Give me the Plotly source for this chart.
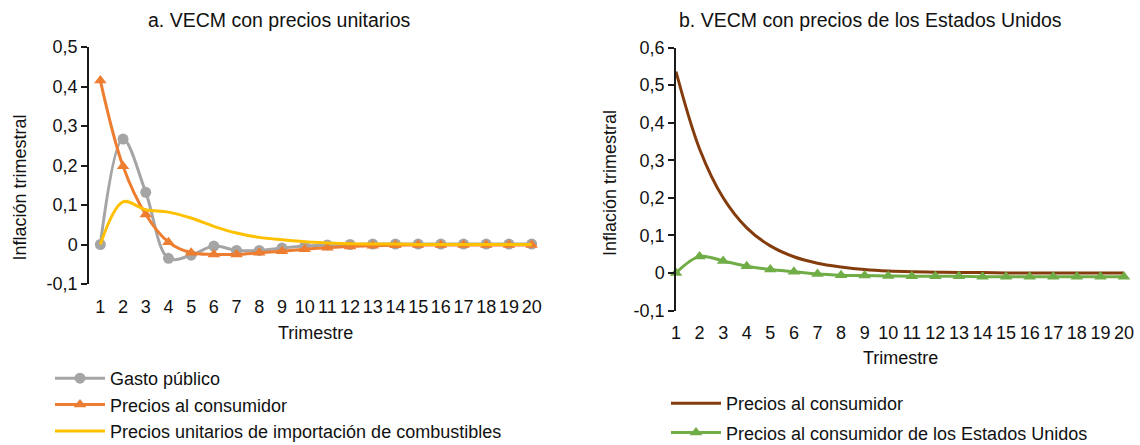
import plotly.graph_objects as go

# ---------------- data ----------------
trimestres = list(range(1, 21))

# Panel a: VECM con precios unitarios
gasto_publico = [0.0, 0.267, 0.132, -0.035, -0.027, -0.004, -0.015, -0.015, -0.009, -0.004,
                 -0.001, 0.0, 0.001, 0.001, 0.001, 0.001, 0.001, 0.001, 0.001, 0.001]
precios_consumidor_a = [0.415, 0.198, 0.076, 0.006, -0.021, -0.025, -0.025, -0.021, -0.017, -0.012,
                        -0.008, -0.005, -0.003, -0.002, -0.001, -0.001, -0.001, -0.001, -0.001, -0.001]
precios_combustibles = [0.0, 0.108, 0.088, 0.082, 0.067, 0.046, 0.029, 0.018, 0.012, 0.007,
                        0.004, 0.002, 0.001, 0.001, 0.0, 0.0, 0.0, 0.0, 0.0, 0.0]

# Panel b: VECM con precios de los Estados Unidos
precios_consumidor_b = [0.536, 0.33, 0.2, 0.12, 0.072, 0.043, 0.026, 0.016, 0.009, 0.005,
                        0.003, 0.002, 0.001, 0.001, 0.0, 0.0, 0.0, 0.0, 0.0, 0.0]
precios_eeuu = [0.0, 0.044, 0.032, 0.018, 0.009, 0.003, -0.003, -0.006, -0.007, -0.008,
                -0.009, -0.009, -0.009, -0.01, -0.01, -0.01, -0.01, -0.01, -0.01, -0.01]

y_ticks_a = [-0.1, 0, 0.1, 0.2, 0.3, 0.4, 0.5]
y_labels_a = ["-0,1", "0", "0,1", "0,2", "0,3", "0,4", "0,5"]
y_ticks_b = [-0.1, 0, 0.1, 0.2, 0.3, 0.4, 0.5, 0.6]
y_labels_b = ["-0,1", "0", "0,1", "0,2", "0,3", "0,4", "0,5", "0,6"]

title_a = "a. VECM con precios unitarios"
title_b = "b. VECM con precios de los Estados Unidos"
y_title = "Inflación trimestral"
x_title = "Trimestre"

# ---------------- style ----------------
W, H = 1140, 445
FONT = "Liberation Sans, Arial, sans-serif"
TXT = "#111111"
AX = "#1a1a1a"
FS = 18

GRAY = "#A5A5A5"
ORANGE = "#ED7D31"
YELLOW = "#FFC000"
BROWN = "#843C0C"
GREEN = "#70AD47"

xa_dom = [89 / W, 543 / W]
ya_dom = [1 - 284 / H, 1 - 47 / H]
xa_rng = [0.5, 20.5]
ya_rng = [-0.1, 0.5]

xb_dom = [676 / W, 1124 / W]
yb_dom = [1 - 310.5 / H, 1 - 47.5 / H]
xb_rng = [1, 20]
yb_rng = [-0.1, 0.6]


def zero_pos(dom, rng):
    return dom[0] + (0 - rng[0]) / (rng[1] - rng[0]) * (dom[1] - dom[0])


fig = go.Figure()

fig.add_trace(go.Scatter(
    x=trimestres, y=gasto_publico, name="Gasto público", mode="lines+markers",
    line=dict(color=GRAY, width=3, shape="spline"),
    marker=dict(symbol="circle", size=11, color=GRAY),
    xaxis="x", yaxis="y", legend="legend", legendgroup="g1", cliponaxis=False))
fig.add_trace(go.Scatter(
    x=trimestres, y=precios_consumidor_a, name="Precios al consumidor", mode="lines+markers",
    line=dict(color=ORANGE, width=3, shape="spline"),
    marker=dict(symbol="triangle-up", size=11, color=ORANGE),
    xaxis="x", yaxis="y", legend="legend", legendgroup="g2", cliponaxis=False))
fig.add_trace(go.Scatter(
    x=trimestres, y=precios_combustibles, name="Precios unitarios de importación de combustibles",
    mode="lines", line=dict(color=YELLOW, width=3, shape="spline"),
    xaxis="x", yaxis="y", legend="legend", legendgroup="g3", cliponaxis=False))

fig.add_trace(go.Scatter(
    x=trimestres, y=precios_consumidor_b, name="Precios al consumidor", mode="lines",
    line=dict(color=BROWN, width=3, shape="spline"),
    xaxis="x2", yaxis="y2", legend="legend2", legendgroup="h1", cliponaxis=False))
fig.add_trace(go.Scatter(
    x=trimestres, y=precios_eeuu, name="Precios al consumidor de los Estados Unidos",
    mode="lines+markers", line=dict(color=GREEN, width=3, shape="spline"),
    marker=dict(symbol="triangle-up", size=11, color=GREEN),
    xaxis="x2", yaxis="y2", legend="legend2", legendgroup="h2", cliponaxis=False))

tickfont = dict(family=FONT, size=FS, color=TXT)

common_x_labels = dict(showline=False, showgrid=False, zeroline=False, ticks="outside",
                       ticklen=6, tickcolor="rgba(0,0,0,0)", tickfont=tickfont,
                       tickmode="array", fixedrange=True, automargin=False)
common_y = dict(showline=True, linecolor=AX, linewidth=1.5, showgrid=False, zeroline=False,
                ticks="outside", ticklen=6, tickwidth=1.5, tickcolor=AX, tickfont=tickfont,
                tickmode="array", fixedrange=True, automargin=False)
common_zero = dict(showline=True, linecolor=AX, linewidth=1.5, showgrid=False, zeroline=False,
                   ticks="outside", ticklen=6, tickwidth=1.5, tickcolor=AX,
                   showticklabels=False, tickmode="array", anchor="free", fixedrange=True,
                   automargin=False)

fig.update_layout(
    width=W, height=H, autosize=False,
    margin=dict(l=0, r=0, t=0, b=0, pad=0, autoexpand=False),
    paper_bgcolor="white", plot_bgcolor="white",
    font=dict(family=FONT, size=FS, color=TXT),
    xaxis=dict(domain=xa_dom, range=xa_rng, anchor="y", tickvals=trimestres, **common_x_labels),
    yaxis=dict(domain=ya_dom, range=ya_rng, anchor="x", tickvals=y_ticks_a, ticktext=y_labels_a, **common_y),
    xaxis3=dict(overlaying="x", range=xa_rng, position=zero_pos(ya_dom, ya_rng),
                tickvals=[k + 0.5 for k in range(0, 21)], **common_zero),
    xaxis2=dict(domain=xb_dom, range=xb_rng, anchor="y2", tickvals=trimestres, **common_x_labels),
    yaxis2=dict(domain=yb_dom, range=yb_rng, anchor="x2", tickvals=y_ticks_b, ticktext=y_labels_b, **common_y),
    xaxis4=dict(overlaying="x2", range=xb_rng, position=zero_pos(yb_dom, yb_rng),
                tickvals=trimestres, **common_zero),
    legend=dict(x=50 / W, y=1 - 360 / H, xanchor="left", yanchor="top",
                font=dict(family=FONT, size=FS, color=TXT), bgcolor="rgba(0,0,0,0)",
                tracegroupgap=0, itemwidth=50),
    legend2=dict(x=666 / W, y=1 - 385 / H, xanchor="left", yanchor="top",
                 font=dict(family=FONT, size=FS, color=TXT), bgcolor="rgba(0,0,0,0)",
                 tracegroupgap=3, itemwidth=50),
    showlegend=True,
)

annots = [
    dict(text=title_a, x=279.5 / W, y=1 - 20 / H, font=dict(size=19.5)),
    dict(text=title_b, x=870 / W, y=1 - 20 / H, font=dict(size=19.5)),
    dict(text=y_title, x=19.5 / W, y=1 - 188 / H, textangle=-90),
    dict(text=y_title, x=610 / W, y=1 - 183 / H, textangle=-90),
    dict(text=x_title, x=316 / W, y=1 - 333 / H),
    dict(text=x_title, x=900 / W, y=1 - 358 / H),
]
for a in annots:
    fig.add_annotation(xref="paper", yref="paper", xanchor="center", yanchor="middle",
                       showarrow=False, **a)

fig.write_html("out.html")
